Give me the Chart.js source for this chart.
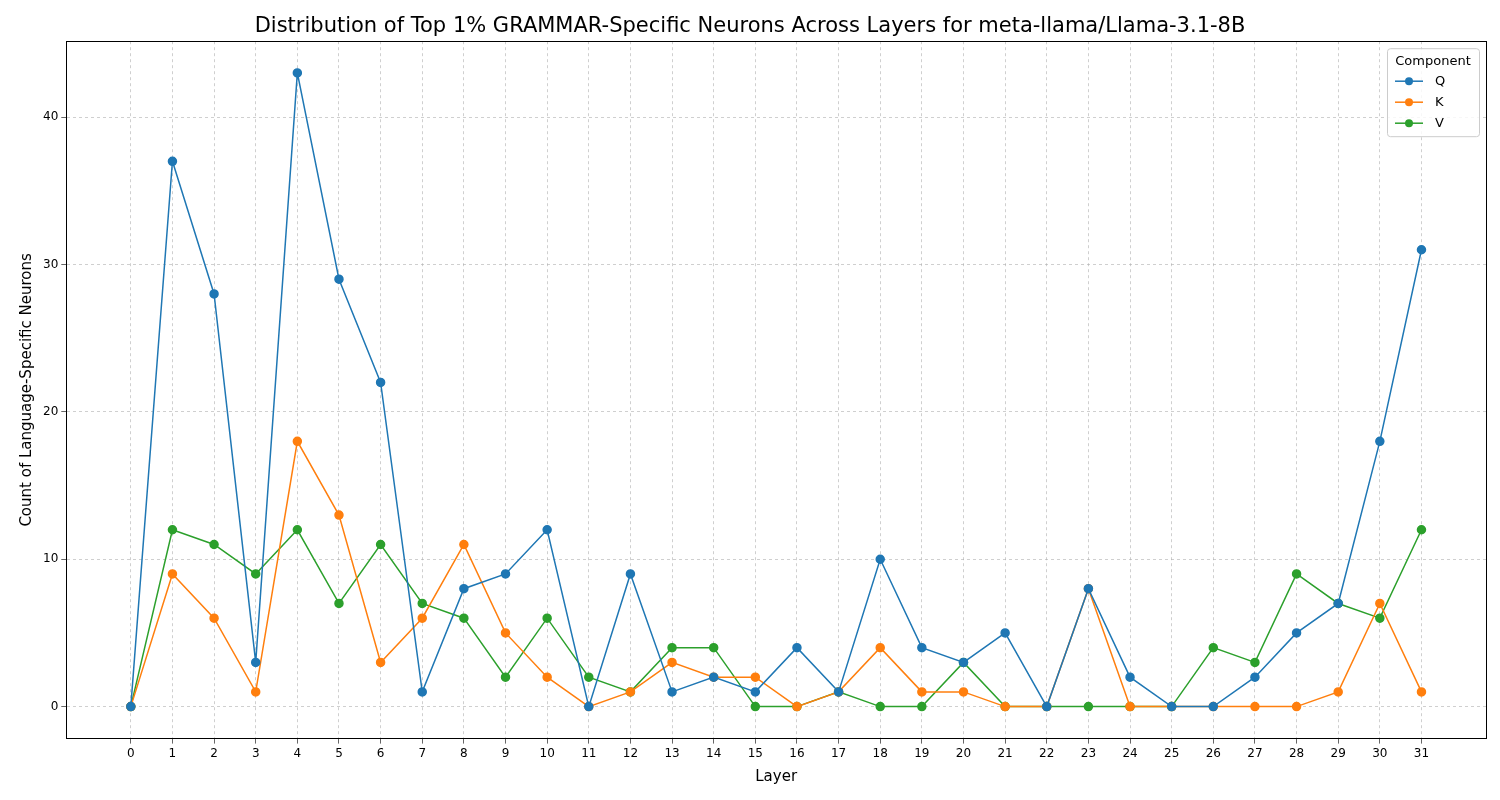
<!DOCTYPE html>
<html>
<head>
<meta charset="utf-8">
<script src="https://cdn.jsdelivr.net/npm/chart.js@4"></script>
<style>
  body { margin: 0; background: #fff; }
  #wrap { width: 1500px; height: 800px; }
</style>
</head>
<body>
<div id="wrap"><canvas id="chart"></canvas></div>
<script>
const layers = Array.from({ length: 32 }, (_, i) => i);
const qCounts = [0, 37, 28, 3, 43, 29, 22, 1, 8, 9, 12, 0, 9, 1, 2, 1, 4, 1, 10, 4, 3, 5, 0, 8, 2, 0, 0, 2, 5, 7, 18, 31];
const kCounts = [0, 9, 6, 1, 18, 13, 3, 6, 11, 5, 2, 0, 1, 3, 2, 2, 0, 1, 4, 1, 1, 0, 0, 8, 0, 0, 0, 0, 0, 1, 7, 1];
const vCounts = [0, 12, 11, 9, 12, 7, 11, 7, 6, 2, 6, 2, 1, 4, 4, 0, 0, 1, 0, 0, 3, 0, 0, 0, 0, 0, 4, 3, 9, 7, 6, 12];
const yTicks = [0, 10, 20, 30, 40];

const series = [
  { label: 'Q', data: qCounts, color: '#1f77b4' },
  { label: 'K', data: kCounts, color: '#ff7f0e' },
  { label: 'V', data: vCounts, color: '#2ca02c' },
];

const font = 'DejaVu Sans';

// frame around plot area + matplotlib-style legend box, top right
const legendBox = {
  id: 'legendBox',
  afterDraw(chart) {
    const { ctx, chartArea } = chart;
    ctx.save();
    ctx.strokeStyle = '#000';
    ctx.lineWidth = 1;
    ctx.strokeRect(Math.round(chartArea.left) + 0.5, Math.round(chartArea.top) + 0.5,
      Math.round(chartArea.width), Math.round(chartArea.height));

    const w = 92, h = 88;
    const x = chartArea.right - w - 7, y = chartArea.top + 7;
    ctx.fillStyle = 'rgba(255,255,255,0.85)';
    ctx.strokeStyle = '#cccccc';
    ctx.beginPath();
    ctx.roundRect(x + 0.5, y + 0.5, w, h, 3);
    ctx.fill();
    ctx.stroke();
    ctx.fillStyle = '#000';
    ctx.font = `13px "${font}"`;
    ctx.textAlign = 'center';
    ctx.textBaseline = 'middle';
    ctx.fillText('Component', x + w / 2, y + 13);
    ctx.textAlign = 'left';
    series.forEach((s, i) => {
      const ly = y + 33 + i * 21;
      ctx.strokeStyle = s.color;
      ctx.lineWidth = 1.5;
      ctx.beginPath();
      ctx.moveTo(x + 8, ly);
      ctx.lineTo(x + 36, ly);
      ctx.stroke();
      ctx.fillStyle = s.color;
      ctx.beginPath();
      ctx.arc(x + 22, ly, 4, 0, Math.PI * 2);
      ctx.fill();
      ctx.fillStyle = '#000';
      ctx.fillText(s.label, x + 48, ly);
    });
    ctx.restore();
  }
};

new Chart(document.getElementById('chart'), {
  type: 'line',
  data: {
    datasets: series.map(s => ({
      label: s.label,
      data: s.data.map((v, i) => ({ x: layers[i], y: v })),
      borderColor: s.color,
      backgroundColor: s.color,
      borderWidth: 1.5,
      pointRadius: 4,
      pointHoverRadius: 4,
      tension: 0,
    })),
  },
  options: {
    responsive: true,
    maintainAspectRatio: false,
    animation: false,
    layout: { padding: { left: 14, right: 14, top: 6, bottom: 10 } },
    plugins: {
      legend: { display: false },
      tooltip: { enabled: false },
      title: {
        display: true,
        text: 'Distribution of Top 1% GRAMMAR-Specific Neurons Across Layers for meta-llama/Llama-3.1-8B',
        color: '#000',
        font: { family: font, size: 21, weight: 'normal' },
        padding: { top: 8, bottom: 2 },
      },
    },
    scales: {
      x: {
        type: 'linear',
        min: -1.55,
        max: 32.55,
        afterBuildTicks: axis => { axis.ticks = layers.map(v => ({ value: v })); },
        ticks: { color: '#000', font: { family: font, size: 12 }, autoSkip: false, maxRotation: 0 },
        grid: { color: '#b0b0b0', lineWidth: 0.6, tickLength: 5, tickColor: '#000' },
        border: { color: '#000', display: true, dash: [3, 3] },
        title: { display: true, text: 'Layer', color: '#000', font: { family: font, size: 15 } },
      },
      y: {
        min: -2.17,
        max: 45.15,
        afterBuildTicks: axis => { axis.ticks = yTicks.map(v => ({ value: v })); },
        ticks: { color: '#000', font: { family: font, size: 12 } },
        grid: { color: '#b0b0b0', lineWidth: 0.6, tickLength: 5, tickColor: '#000' },
        border: { color: '#000', dash: [3, 3] },
        title: { display: true, text: 'Count of Language-Specific Neurons', color: '#000', font: { family: font, size: 15 } },
      },
    },
  },
  plugins: [legendBox],
});
</script>
</body>
</html>
